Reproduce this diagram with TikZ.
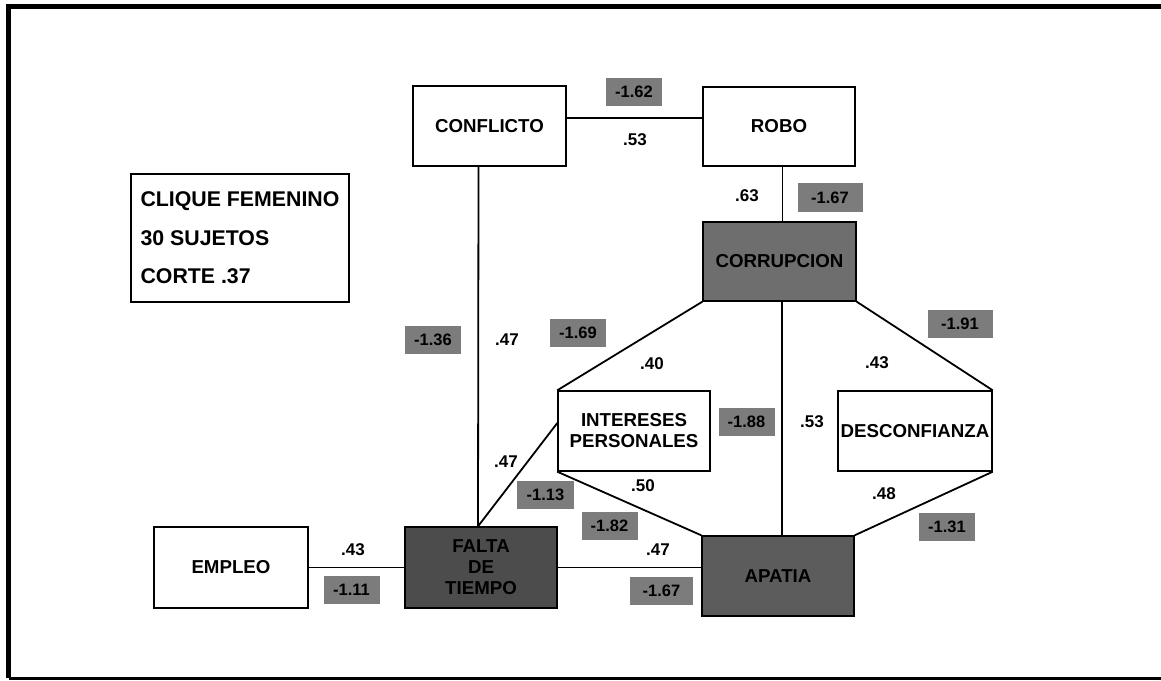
\documentclass[tikz,border=0pt]{standalone}
\usepackage{fontspec}
\setmainfont{Liberation Sans}
\definecolor{labgray}{HTML}{7C7C7C}
\definecolor{corrgray}{HTML}{6E6E6E}
\definecolor{faltagray}{HTML}{4C4C4C}
\definecolor{apagray}{HTML}{5C5C5C}
\tikzset{
  nbox/.style={draw, line width=1.4, fill=white, inner sep=0, align=center,
    minimum width=153, minimum height=80, font=\fontsize{18.7}{21}\selectfont\bfseries},
  conn/.style={line width=1.8},
  val/.style={inner sep=0, font=\fontsize{17}{18}\selectfont\bfseries},
  neg/.style={fill=labgray, inner sep=0, minimum width=56, minimum height=28,
    font=\fontsize{16.5}{18}\selectfont\bfseries},
  legendbox/.style={draw, line width=1.4, inner sep=0, align=left,
    minimum width=218, minimum height=128, font=\fontsize{21.3}{38.5}\selectfont\bfseries}
}
\begin{document}
\begin{tikzpicture}[x=1pt,y=-1pt]
\useasboundingbox (0,0) rectangle (1161,680);
% frame
\draw[line width=5.5] (8.5,678) -- (8.5,6.3) -- (1161,6.3);
\draw[line width=3] (8.5,678.5) -- (1161,678.5);

% nodes
\node[nbox] (conf) at (489.5,126) {CONFLICTO};
\node[nbox, minimum width=152, minimum height=79] (robo) at (779,126.5) {ROBO};
\node[nbox, fill=corrgray, minimum height=79] (corr) at (779.5,261.5) {CORRUPCION};
\node[nbox, minimum width=152] (inter) at (634,431) {INTERESES\\PERSONALES};
\node[nbox, minimum width=154] (desc) at (915,431) {DESCONFIANZA};
\node[nbox, fill=faltagray, minimum width=152, minimum height=81] (falta) at (481,567.5) {FALTA\\DE\\TIEMPO};
\node[nbox, fill=apagray, minimum width=152] (apatia) at (778,576) {APATIA};
\node[nbox, minimum width=154, minimum height=81] (empleo) at (231,567.5) {EMPLEO};
\node[legendbox] (leg) at (240,238) {CLIQUE FEMENINO\\30 SUJETOS\\CORTE .37};

\coordinate (ft) at ([xshift=-3pt]falta.north);

% connectors
\draw[conn] ([yshift=8pt]conf.east) -- ([yshift=8pt]conf.east -| robo.west);
\draw[conn] ([xshift=-11pt]conf.south) -- (ft);
\draw[conn] ([xshift=3.5pt]robo.south) -- ([xshift=3.5pt]robo.south |- corr.north);
\draw[conn] ([xshift=2.5pt]corr.south) -- ([xshift=2.5pt]corr.south |- apatia.north);
\draw[conn] (corr.south west) -- (inter.north west);
\draw[conn] (corr.south east) -- (desc.north east);
\draw[conn] (desc.south east) -- (apatia.north east);
\draw[conn] (inter.south west) -- (apatia.north west);
\draw[conn] ([yshift=8pt]inter.west) -- (ft);
\draw[conn] (empleo.east) -- (falta.west);
\draw[conn] (falta.east) -- (falta.east -| apatia.west);

% correlation values
\node[val] (v1) at (635,140) {.53};
\node[val] (v2) at (747,196) {.63};
\node[val] (v3) at (507,340) {.47};
\node[val] (v4) at (652,364) {.40};
\node[val] (v5) at (877,363) {.43};
\node[val] (v6) at (812,422) {.53};
\node[val] (v7) at (506,462) {.47};
\node[val] (v8) at (643,486) {.50};
\node[val] (v9) at (884,494) {.48};
\node[val] (v10) at (658,550) {.47};
\node[val] (v11) at (353,550) {.43};

% negative values
\node[neg] (n1) at (634,92) {-1.62};
\node[neg, minimum width=65, minimum height=29] (n2) at (830,197.5) {-1.67};
\node[neg] (n3) at (433,340) {-1.36};
\node[neg] (n4) at (578,332.5) {-1.69};
\node[neg, minimum width=65] (n5) at (960,324) {-1.91};
\node[neg] (n6) at (746.5,421.5) {-1.88};
\node[neg, minimum width=57] (n7) at (545.5,494.5) {-1.13};
\node[neg] (n8) at (609.5,526) {-1.82};
\node[neg] (n9) at (947,527) {-1.31};
\node[neg] (n10) at (351.5,590) {-1.11};
\node[neg, minimum width=63] (n11) at (661.5,591) {-1.67};
\end{tikzpicture}
\end{document}
